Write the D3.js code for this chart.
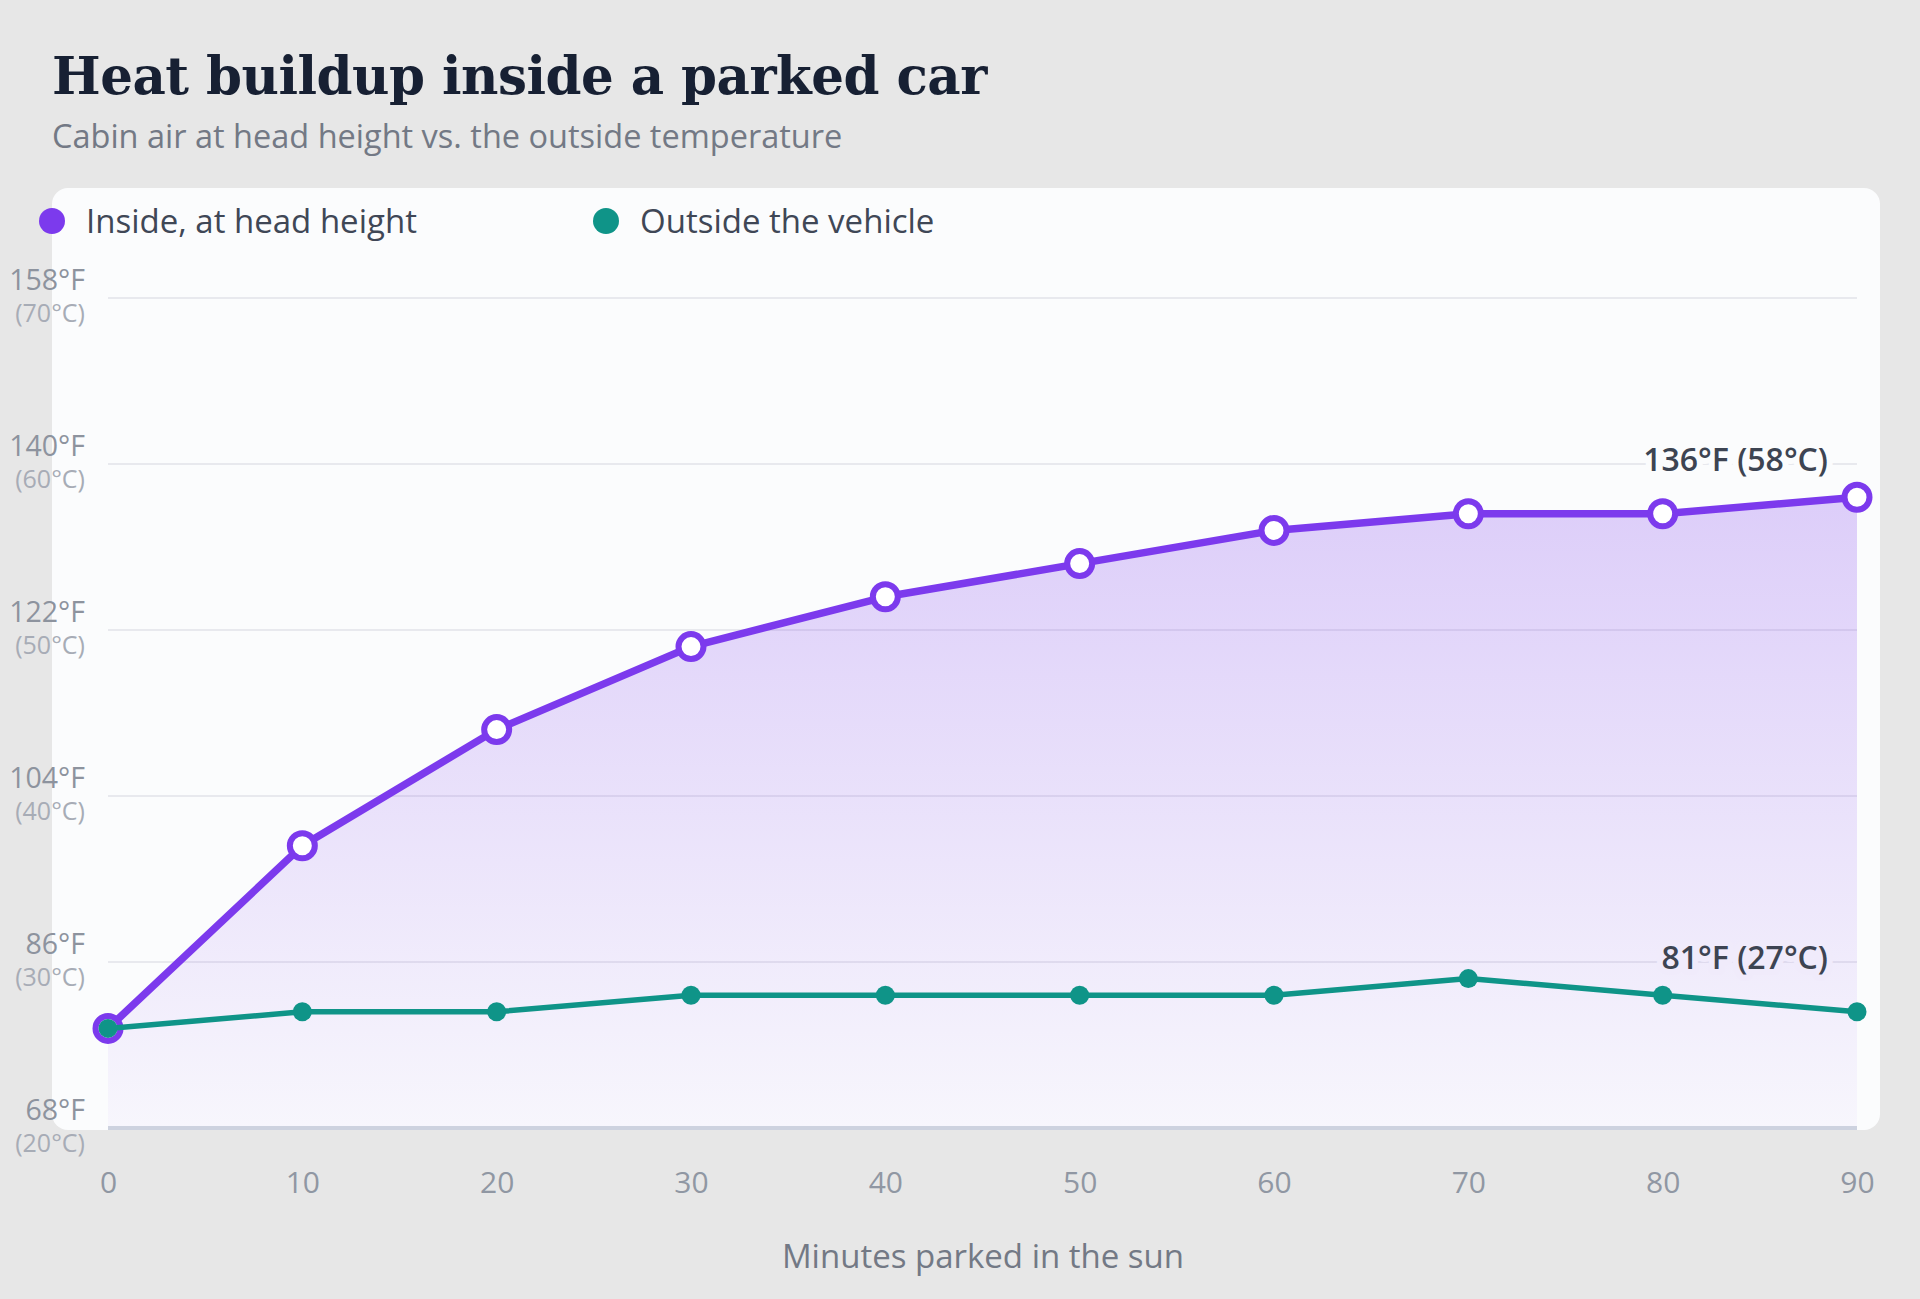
<!DOCTYPE html>
<html>
<head>
<meta charset="utf-8">
<script src="https://cdn.jsdelivr.net/npm/d3@7"></script>
<style>
  html, body { margin: 0; padding: 0; background: #e7e7e7; }
  svg { display: block; }
</style>
</head>
<body>
<script>
// ---- data (temperatures in °C) ----
const minutes = [0, 10, 20, 30, 40, 50, 60, 70, 80, 90];
const insideC = [26, 37, 44, 49, 52, 54, 56, 57, 57, 58];
const outsideC = [26, 27, 27, 28, 28, 28, 28, 29, 28, 27];
const yTicksC = [20, 30, 40, 50, 60, 70];
const xTicks = [0, 10, 20, 30, 40, 50, 60, 70, 80, 90];
const seriesNames = ["Inside, at head height", "Outside the vehicle"];
const titleText = "Heat buildup inside a parked car";
const subtitleText = "Cabin air at head height vs. the outside temperature";
const xAxisTitle = "Minutes parked in the sun";

const toF = c => Math.round(c * 9 / 5 + 32);

const W = 1920, H = 1299;
const PURPLE = "#7c3aed", TEAL = "#0f9488";
const SANS = "'Open Sans', 'Noto Sans', sans-serif";

const svg = d3.select("body").append("svg").attr("width", W).attr("height", H);

const defs = svg.append("defs");
const grad = defs.append("linearGradient").attr("id", "areaGrad")
  .attr("x1", 0).attr("y1", 0).attr("x2", 0).attr("y2", 1);
grad.append("stop").attr("offset", "0%").attr("stop-color", PURPLE).attr("stop-opacity", 0.24);
grad.append("stop").attr("offset", "100%").attr("stop-color", PURPLE).attr("stop-opacity", 0.03);

// background
svg.append("rect").attr("width", W).attr("height", H).attr("fill", "#e7e7e7");

// card
svg.append("rect").attr("x", 52).attr("y", 188).attr("width", 1828).attr("height", 942)
  .attr("rx", 16).attr("fill", "#fbfcfd");

// title + subtitle
svg.append("text").attr("x", 52).attr("y", 94)
  .attr("font-family", "'DejaVu Serif', 'Liberation Serif', serif")
  .attr("font-weight", 700).attr("font-size", 51.5).attr("fill", "#172033")
  .attr("letter-spacing", -0.5)
  .text(titleText);
svg.append("text").attr("x", 52).attr("y", 148)
  .attr("font-family", SANS).attr("font-size", 32.5).attr("fill", "#737985")
  .text(subtitleText);

// scales
const x = d3.scaleLinear().domain([0, 90]).range([108, 1857]);
const y = d3.scaleLinear().domain([20, 70]).range([1128, 298]);

// gridlines
svg.append("g").selectAll("line").data(yTicksC.filter(t => t !== 20)).join("line")
  .attr("x1", x(0)).attr("x2", x(90))
  .attr("y1", d => y(d)).attr("y2", d => y(d))
  .attr("stroke", "#e8e9ee").attr("stroke-width", 2);

// area under inside line
const area = d3.area().x((d, i) => x(minutes[i])).y0(y(20)).y1(d => y(d));
svg.append("path").datum(insideC).attr("d", area).attr("fill", "url(#areaGrad)");

// axis line
svg.append("line").attr("x1", x(0)).attr("x2", x(90)).attr("y1", y(20)).attr("y2", y(20))
  .attr("stroke", "#cdd2df").attr("stroke-width", 4);

// y tick labels
const yAxisG = svg.append("g").attr("font-family", SANS).attr("text-anchor", "end");
yAxisG.selectAll("text.f").data(yTicksC).join("text").attr("class", "f")
  .attr("x", 85).attr("y", d => y(d) - 8)
  .attr("font-size", 28.5).attr("fill", "#8d939e")
  .text(d => toF(d) + "°F");
yAxisG.selectAll("text.c").data(yTicksC).join("text").attr("class", "c")
  .attr("x", 85).attr("y", d => y(d) + 24)
  .attr("font-size", 25).attr("fill", "#a7acb6")
  .text(d => "(" + d + "°C)");

// x axis tick labels
const xAxis = d3.axisBottom(x).tickValues(xTicks).tickSize(0).tickPadding(0).tickFormat(d3.format("d"));
const xg = svg.append("g").attr("transform", `translate(0, ${y(20) + 50})`).call(xAxis);
xg.select(".domain").remove();
xg.selectAll("text").attr("font-family", SANS).attr("font-size", 30).attr("fill", "#9097a3").attr("dy", "0.5em");

svg.append("text").attr("x", 983).attr("y", 1268).attr("text-anchor", "middle")
  .attr("font-family", SANS).attr("font-size", 33).attr("fill", "#737985")
  .text(xAxisTitle);

// lines
const line = d3.line().x((d, i) => x(minutes[i])).y(d => y(d));
svg.append("path").datum(insideC).attr("d", line).attr("fill", "none")
  .attr("stroke", PURPLE).attr("stroke-width", 7.5).attr("stroke-linejoin", "round");
svg.append("g").selectAll("circle").data(insideC).join("circle")
  .attr("cx", (d, i) => x(minutes[i])).attr("cy", d => y(d)).attr("r", 12.5)
  .attr("fill", "#ffffff").attr("stroke", PURPLE).attr("stroke-width", 6);

svg.append("path").datum(outsideC).attr("d", line).attr("fill", "none")
  .attr("stroke", TEAL).attr("stroke-width", 5.5).attr("stroke-linejoin", "round");
svg.append("g").selectAll("circle").data(outsideC).join("circle")
  .attr("cx", (d, i) => x(minutes[i])).attr("cy", d => y(d)).attr("r", 9.5)
  .attr("fill", TEAL);

// end labels
function endLabel(vals, halo) {
  const n = vals.length;
  const last = vals[n - 1];
  const top = Math.min(y(vals[n - 1]), y(vals[n - 2]));
  svg.append("text").attr("x", x(minutes[n - 1]) - 29).attr("y", top - 26)
    .attr("text-anchor", "end").attr("font-family", SANS).attr("font-weight", 600)
    .attr("font-size", 32).attr("fill", "#3d4452")
    .attr("stroke", halo).attr("stroke-width", 12).attr("paint-order", "stroke")
    .attr("stroke-linejoin", "round")
    .text(toF(last) + "°F (" + last + "°C)");
}
endLabel(insideC, "#fbfcfd");
endLabel(outsideC, "#f0ebfb");

// legend
const legend = [
  { name: seriesNames[0], color: PURPLE, cx: 52, tx: 86 },
  { name: seriesNames[1], color: TEAL, cx: 606, tx: 640 }
];
const lg = svg.append("g");
legend.forEach(l => {
  lg.append("circle").attr("cx", l.cx).attr("cy", 221).attr("r", 13).attr("fill", l.color);
  lg.append("text").attr("x", l.tx).attr("y", 233)
    .attr("font-family", SANS).attr("font-size", 33).attr("fill", "#3f4756")
    .text(l.name);
});
</script>
</body>
</html>
